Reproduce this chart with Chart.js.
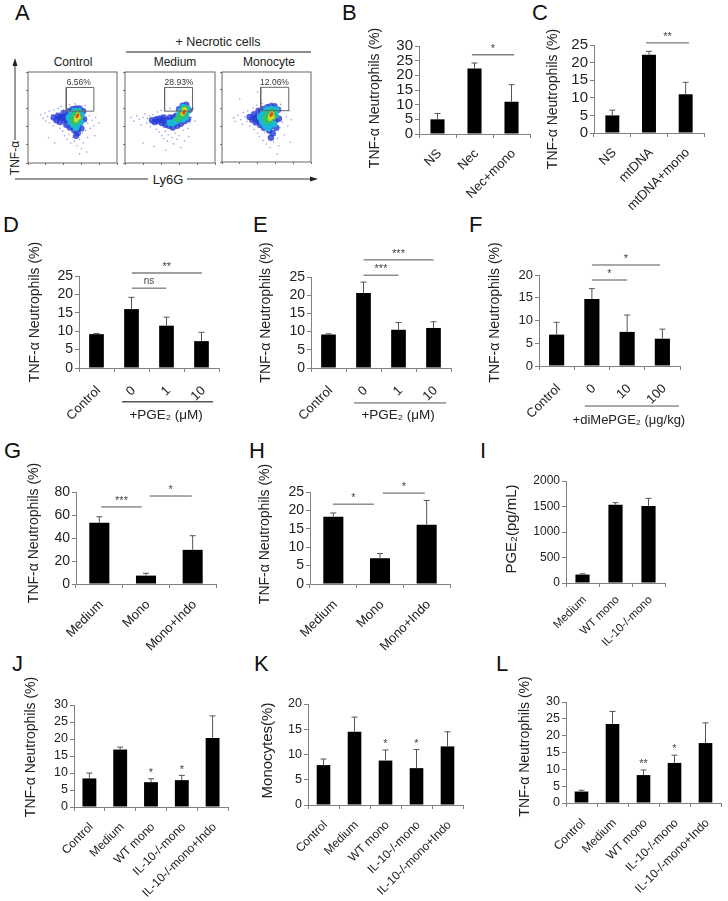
<!DOCTYPE html>
<html>
<head>
<meta charset="utf-8">
<script src="https://cdn.jsdelivr.net/npm/chart.js@4"></script>
<style>
  body { margin: 0; background: #fff; width: 728px; height: 901px; position: relative; overflow: hidden;
         font-family: "Liberation Sans", Arial, sans-serif; color: #222; }
  canvas { position: absolute; filter: blur(0.35px); }
  canvas.flow { filter: blur(0.6px); }
  .letter { position: absolute; font-size: 22px; line-height: 22px; color: #111; }
  .t { position: absolute; transform: translate(-50%, -50%); white-space: nowrap; font-size: 12px; }
  svg { position: absolute; left: 0; top: 0; }
</style>
</head>
<body>
<svg width="728" height="200">
  <line x1="126" y1="52" x2="311" y2="52" stroke="#666" stroke-width="1.5"/>
  <line x1="15" y1="64" x2="15" y2="140" stroke="#333"/>
  <polygon points="15,58 12.5,66 17.5,66" fill="#222"/>
  <line x1="15" y1="179" x2="148" y2="179" stroke="#333"/>
  <line x1="187" y1="179" x2="312" y2="179" stroke="#333"/>
  <polygon points="318,179 310,176.5 310,181.5" fill="#222"/>
</svg>
<div class="letter" style="left:15px;top:2px">A</div>
<div class="letter" style="left:342px;top:2px">B</div>
<div class="letter" style="left:532px;top:2px">C</div>
<div class="letter" style="left:3px;top:214px">D</div>
<div class="letter" style="left:253px;top:214px">E</div>
<div class="letter" style="left:469px;top:214px">F</div>
<div class="letter" style="left:4px;top:440px">G</div>
<div class="letter" style="left:249px;top:440px">H</div>
<div class="letter" style="left:480px;top:440px">I</div>
<div class="letter" style="left:12px;top:653px">J</div>
<div class="letter" style="left:254px;top:653px">K</div>
<div class="letter" style="left:496px;top:653px">L</div>
<div class="t" style="left:218px;top:42px;font-size:12.5px">+ Necrotic cells</div>
<div class="t" style="left:73px;top:62px">Control</div>
<div class="t" style="left:175px;top:62px">Medium</div>
<div class="t" style="left:269px;top:62px">Monocyte</div>
<div class="t" style="left:168px;top:179px;font-size:13px">Ly6G</div>
<div class="t" style="left:15px;top:158px;transform:translate(-50%,-50%) rotate(-90deg)">TNF-α</div>

<script>
// bar values, the top of each error bar, and category labels per panel
const labelsB = ["NS", "Nec", "Nec+mono"];
const valuesB = [5, 22.3, 11];
const topsB = [7, 24.2, 16.8];

const labelsC = ["NS", "mtDNA", "mtDNA+mono"];
const valuesC = [5, 22.2, 11];
const topsC = [6.5, 23.2, 14.4];

const labelsD = ["Control", "0", "1", "10"];
const valuesD = [9.2, 16, 11.5, 7.3];
const topsD = [9.4, 19.2, 13.8, 9.7];

const labelsE = ["Control", "0", "1", "10"];
const valuesE = [9.2, 20.6, 10.5, 11];
const topsE = [9.4, 23.6, 12.5, 12.7];

const labelsF = ["Control", "0", "10", "100"];
const valuesF = [6.9, 14.7, 7.5, 6];
const topsF = [9.6, 17, 11.2, 8.1];

const labelsG = ["Medium", "Mono", "Mono+Indo"];
const valuesG = [53.3, 7.3, 29.7];
const topsG = [58.5, 9.3, 42];

const labelsH = ["Medium", "Mono", "Mono+Indo"];
const valuesH = [18.3, 7, 16.1];
const topsH = [19.3, 8.3, 22.7];

const labelsI = ["Medium", "WT mono", "IL-10-/-mono"];
const valuesI = [165, 1535, 1510];
const topsI = [180, 1575, 1660];

const labelsJKL = ["Control", "Medium", "WT mono", "IL-10-/-mono", "IL-10-/-mono+Indo"];
const valuesJ = [8.4, 16.9, 7.3, 7.9, 20.3];
const topsJ = [10, 17.6, 8.3, 9.3, 26.8];
const valuesK = [7.9, 14.5, 8.8, 7.3, 11.6];
const topsK = [9.1, 17.4, 10.9, 11, 14.5];
const valuesL = [3.4, 23.5, 8.3, 11.9, 17.8];
const topsL = [3.8, 27.2, 9.8, 14.2, 23.8];

// flow plots, read by eye, x and y in percent of the frame
const ctrlSparse = [[14,53],[17,49],[19,55],[20,46],[22,51],[24,44],[24,57],[26,49],[27,53],[28,41],[29,58],[30,46],[31,51],[32,55],[33,43],[34,60],[35,48],[36,38],[36,53],[37,62],[38,45],[39,35],[40,58],[41,30],[42,42],[44,26],[46,31],[47,64],[48,22],[50,28],[52,24],[53,65],[55,19],[56,30],[58,26],[60,16],[61,33],[62,22],[64,63],[65,36],[67,44],[67,28],[69,52],[70,38],[72,47],[74,41],[76,50],[23,28],[30,22],[58,10],[66,12],[75,30],[80,44]];
const ctrlBlue = [[29,50],[32,47],[34,52],[36,45],[38,50],[40,55],[41,47],[43,42],[44,52],[46,57],[47,39],[49,47],[50,59],[52,36],[54,60],[56,33],[58,60],[60,38],[62,57],[63,48],[54,30],[36,50],[40,51],[44,47],[48,53],[53,42],[58,44],[60,50],[50,40],[56,38]];
const ctrlCyan = [[46,50],[48,45],[49,54],[51,42],[52,57],[54,39],[57,57],[59,45],[60,52],[55,42]];
const ctrlGreen = [[50,48],[52,44],[52,53],[55,46],[56,56],[58,50],[54,50]];
const ctrlYellow = [[54,50],[56,53],[54,47],[57,50]];
const ctrlRed = [[55,51],[56,53]];

const medSparse = [[7,50],[10,46],[13,52],[16,48],[18,42],[20,50],[22,54],[24,44],[25,49],[27,52],[28,40],[30,47],[31,53],[33,43],[34,50],[35,37],[36,56],[38,34],[39,45],[40,58],[41,30],[43,27],[45,35],[47,24],[48,31],[50,60],[52,28],[54,21],[56,33],[58,26],[60,30],[62,17],[65,36],[66,24],[70,38],[72,44],[74,50],[76,60],[71,29],[20,22],[32,18],[45,14],[78,46]];
const medBlue = [[30,47],[33,45],[35,48],[37,46],[39,49],[41,44],[43,50],[45,42],[47,47],[49,41],[51,46],[53,39],[55,44],[57,52],[58,41],[60,59],[62,43],[64,63],[68,64],[71,58],[70,48],[66,46],[50,50],[54,50],[62,48],[66,56],[63,56],[42,47]];
const medCyan = [[50,44],[53,44],[56,46],[58,47],[60,52],[62,57],[65,61],[69,60],[67,50],[64,48],[68,55]];
const medGreen = [[58,48],[60,50],[62,54],[64,58],[67,60],[65,52],[67,56]];
const medYellow = [[65,56],[66,59],[64,54],[67,58]];
const medRed = [[66,57],[65,55]];

const monoSparse = [[13,49],[15,45],[18,52],[21,47],[23,42],[24,55],[26,50],[28,45],[29,57],[31,40],[32,52],[34,47],[35,60],[36,36],[38,43],[39,63],[40,32],[42,28],[44,40],[45,65],[46,24],[48,33],[50,20],[52,28],[54,16],[55,33],[56,66],[58,22],[60,30],[62,26],[64,18],[65,38],[66,64],[68,44],[70,30],[72,50],[74,40],[76,57],[78,47],[20,70],[40,78],[62,9],[77,22]];
const monoBlue = [[31,50],[34,47],[36,53],[38,44],[39,50],[41,57],[41,46],[43,41],[44,52],[46,59],[47,38],[49,46],[51,61],[53,35],[55,62],[57,32],[59,62],[61,38],[63,58],[64,48],[55,27],[48,55],[37,49],[43,47],[50,41],[56,40],[60,46],[52,48],[44,56]];
const monoCyan = [[43,50],[45,46],[46,54],[48,41],[50,58],[52,38],[55,59],[58,42],[60,52],[61,58],[54,42]];
const monoGreen = [[48,49],[50,45],[51,53],[54,46],[55,56],[58,50],[58,55],[53,50]];
const monoYellow = [[54,51],[56,54],[57,50],[54,48]];
const monoRed = [[56,54],[55,52]];

const gateControl = [[43,57],[74,57],[74,83],[43,83],[43,57]];
const gateMedium = [[44,57],[75,57],[75,83],[44,83],[44,57]];
const gateMonocyte = [[43.5,57],[75,57],[75,83],[43.5,83],[43.5,57]];

const MARGIN = { left: 60, right: 20, top: 45, bottom: 95 };
const TNF = "TNF-α Neutrophils (%)";

// draws error bars, brackets, stars, group lines and the y title
const extras = {
  id: "extras",
  afterDatasetsDraw(chart, args, o) {
    const ctx = chart.ctx, x = chart.scales.x, y = chart.scales.y, a = chart.chartArea;
    ctx.save();
    ctx.strokeStyle = "#555";
    ctx.lineWidth = 1;
    o.tops.forEach((top, i) => {
      const px = x.getPixelForValue(i);
      const y0 = y.getPixelForValue(o.values[i]), y1 = y.getPixelForValue(top);
      ctx.beginPath();
      ctx.moveTo(px, y0); ctx.lineTo(px, y1);
      ctx.moveTo(px - 3, y1); ctx.lineTo(px + 3, y1);
      ctx.stroke();
    });
    ctx.textAlign = "center";
    (o.brackets || []).forEach(b => {
      const yy = y.getPixelForValue(b.y);
      ctx.strokeStyle = b.color || "#555";
      ctx.lineWidth = b.width || 1;
      ctx.beginPath();
      ctx.moveTo(x.getPixelForValue(b.from), yy);
      ctx.lineTo(x.getPixelForValue(b.to), yy);
      ctx.stroke();
      ctx.fillStyle = "#444";
      ctx.font = (b.text === "ns" ? "10px" : "11px") + ' "Liberation Sans"';
      ctx.textBaseline = b.text === "ns" ? "bottom" : "middle";
      ctx.fillText(b.text, x.getPixelForValue((b.from + b.to) / 2), b.text === "ns" ? yy - 2 : yy - 6);
    });
    (o.stars || []).forEach(s => {
      ctx.fillStyle = "#444";
      ctx.font = '11px "Liberation Sans"';
      ctx.textBaseline = "middle";
      ctx.fillText(s.text, x.getPixelForValue(s.x), y.getPixelForValue(s.y));
    });
    if (o.group) {
      const g = o.group, yy = y.getPixelForValue(g.y);
      ctx.strokeStyle = "#555";
      ctx.beginPath();
      ctx.moveTo(x.getPixelForValue(g.from), yy);
      ctx.lineTo(x.getPixelForValue(g.to), yy);
      ctx.stroke();
      ctx.fillStyle = "#222";
      ctx.font = g.font + ' "Liberation Sans"';
      ctx.textBaseline = "middle";
      ctx.fillText(g.text, x.getPixelForValue(g.x), y.getPixelForValue(g.textY));
    }
    ctx.translate(a.left - o.titleDx, (a.top + a.bottom) / 2 + o.titleDy);
    ctx.rotate(-Math.PI / 2);
    ctx.fillStyle = "#222";
    ctx.font = o.titleSize + 'px "Liberation Sans"';
    ctx.textBaseline = "middle";
    ctx.fillText(o.title, 0, 0);
    ctx.restore();
  },
};

function barPanel(p) {
  const canvas = document.createElement("canvas");
  const w = p.right - p.left, h = p.bottom - p.top;
  canvas.width = w + MARGIN.left + MARGIN.right;
  canvas.height = h + MARGIN.top + MARGIN.bottom;
  canvas.style.left = p.left - MARGIN.left + "px";
  canvas.style.top = p.top - MARGIN.top + "px";
  document.body.appendChild(canvas);
  return new Chart(canvas.getContext("2d"), {
    type: "bar",
    data: {
      labels: p.labels,
      datasets: [{
        data: p.values,
        backgroundColor: "#000",
        barPercentage: p.barPct,
        categoryPercentage: 1,
      }],
    },
    options: {
      responsive: false,
      animation: false,
      layout: { padding: { top: MARGIN.top, right: MARGIN.right, left: 0, bottom: 0 } },
      plugins: {
        legend: { display: false },
        tooltip: { enabled: false },
        extras: {
          values: p.values, tops: p.tops, brackets: p.brackets, stars: p.stars, group: p.group,
          title: p.title || TNF, titleDx: p.titleDx, titleDy: p.titleDy, titleSize: p.titleSize || 14,
        },
      },
      scales: {
        x: {
          afterFit: s => { s.height = MARGIN.bottom; },
          border: { color: "#808080" },
          grid: { drawOnChartArea: false, color: "#808080", tickLength: 4 },
          ticks: {
            autoSkip: false, minRotation: 45, maxRotation: 45, padding: p.xPad, labelOffset: 2,
            color: "#222", font: { family: "Liberation Sans", size: p.xSize },
          },
        },
        y: {
          min: 0, max: p.max,
          afterFit: s => { s.width = MARGIN.left; },
          border: { color: "#808080" },
          grid: { drawOnChartArea: false, color: "#808080", tickLength: 4 },
          ticks: {
            stepSize: p.step, padding: 2, autoSkip: false,
            callback: v => String(v),
            color: "#222", font: { family: "Liberation Sans", size: p.ySize },
          },
        },
      },
    },
    plugins: [extras],
  });
}

const heavy = { color: "#808080", width: 1.5 };

barPanel({ labels: labelsB, values: valuesB, tops: topsB, left: 419, right: 530, top: 46, bottom: 134, max: 30, step: 5,
  barPct: 0.38, xSize: 13, xPad: 8, ySize: 15, titleDx: 44, titleDy: 8,
  brackets: [{ from: 0.93, to: 2.07, y: 27, text: "*", ...heavy }] });
barPanel({ labels: labelsC, values: valuesC, tops: topsC, left: 594, right: 704, top: 45, bottom: 133.5, max: 25, step: 5,
  barPct: 0.38, xSize: 13, xPad: 8, ySize: 15, titleDx: 41, titleDy: 10,
  brackets: [{ from: 0.92, to: 2.09, y: 25.6, text: "**" }] });
barPanel({ labels: labelsD, values: valuesD, tops: topsD, left: 79, right: 219, top: 276, bottom: 368, max: 25, step: 5,
  barPct: 0.42, xSize: 13, xPad: 11, ySize: 14, titleDx: 44, titleDy: -10,
  brackets: [{ from: 1.01, to: 1.99, y: 21.7, text: "ns" }, { from: 1.01, to: 3.01, y: 25.8, text: "**", ...heavy }],
  group: { from: 0.73, to: 3.33, y: -9.2, text: "+PGE₂ (μM)", x: 1.99, textY: -12.8, font: "13.5px" } });
barPanel({ labels: labelsE, values: valuesE, tops: topsE, left: 311, right: 451, top: 277, bottom: 368, max: 25, step: 5,
  barPct: 0.42, xSize: 13, xPad: 11, ySize: 14, titleDx: 45, titleDy: -10,
  brackets: [{ from: 1, to: 2, y: 25.5, text: "***" }, { from: 1, to: 3, y: 29.7, text: "***" }],
  group: { from: 0.73, to: 3.36, y: -9.6, text: "+PGE₂ (μM)", x: 1.99, textY: -12.9, font: "13.5px" } });
barPanel({ labels: labelsF, values: valuesF, tops: topsF, left: 539, right: 680, top: 275, bottom: 366, max: 20, step: 5,
  barPct: 0.43, xSize: 13, xPad: 11, ySize: 13, titleDx: 44, titleDy: -8,
  brackets: [{ from: 1, to: 2, y: 18.9, text: "*" }, { from: 1, to: 2.93, y: 22.2, text: "*" }],
  group: { from: 0.8, to: 3.47, y: -8.8, text: "+diMePGE₂ (μg/kg)", x: 2.05, textY: -11.9, font: "13px" } });
barPanel({ labels: labelsG, values: valuesG, tops: topsG, left: 76, right: 216, top: 492, bottom: 584, max: 80, step: 20,
  barPct: 0.43, xSize: 13, xPad: 9, ySize: 14, titleDx: 42, titleDy: -5,
  brackets: [{ from: 0.04, to: 0.91, y: 67, text: "***" }, { from: 1.08, to: 1.98, y: 76.5, text: "*" }] });
barPanel({ labels: labelsH, values: valuesH, tops: topsH, left: 310, right: 450, top: 492, bottom: 584, max: 25, step: 5,
  barPct: 0.43, xSize: 13, xPad: 9, ySize: 14, titleDx: 45, titleDy: -4,
  brackets: [{ from: -0.01, to: 0.87, y: 21.7, text: "*" }, { from: 1.06, to: 1.96, y: 24.7, text: "*" }] });
barPanel({ labels: labelsI, values: valuesI, tops: topsI, left: 566, right: 665, top: 481, bottom: 583, max: 2000, step: 500,
  barPct: 0.43, xSize: 11.5, xPad: 6, ySize: 12, titleDx: 54, titleDy: -3, title: "PGE₂(pg/mL)", titleSize: 15 });
barPanel({ labels: labelsJKL, values: valuesJ, tops: topsJ, left: 74, right: 228, top: 705, bottom: 807, max: 30, step: 5,
  barPct: 0.45, xSize: 12, xPad: 9, ySize: 12.5, titleDx: 43, titleDy: -9,
  stars: [{ x: 2, y: 10, text: "*" }, { x: 3, y: 11, text: "*" }] });
barPanel({ labels: labelsJKL, values: valuesK, tops: topsK, left: 308, right: 463, top: 704, bottom: 805, max: 20, step: 5,
  barPct: 0.44, xSize: 12, xPad: 9, ySize: 12.5, titleDx: 40, titleDy: -4, title: "Monocytes(%)", titleSize: 15,
  stars: [{ x: 2, y: 12, text: "*" }, { x: 3, y: 12, text: "*" }] });
barPanel({ labels: labelsJKL, values: valuesL, tops: topsL, left: 566, right: 721, top: 702, bottom: 803, max: 30, step: 5,
  barPct: 0.44, xSize: 12, xPad: 9, ySize: 12.5, titleDx: 41, titleDy: -6,
  stars: [{ x: 2, y: 11.6, text: "**" }, { x: 3, y: 16, text: "*" }] });

// gate frame and percent label for the flow plots
const flowExtras = {
  id: "flowExtras",
  afterDatasetsDraw(chart, args, o) {
    const ctx = chart.ctx, a = chart.chartArea;
    ctx.save();
    ctx.strokeStyle = "#666";
    ctx.lineWidth = 1;
    ctx.strokeRect(a.left, a.top, a.right - a.left, a.bottom - a.top);
    ctx.fillStyle = "#333";
    ctx.font = '8.5px "Liberation Sans"';
    ctx.textAlign = "center";
    ctx.textBaseline = "middle";
    ctx.fillText(o.label, chart.scales.x.getPixelForValue(o.labelX), chart.scales.y.getPixelForValue(88));
    ctx.restore();
  },
};

function flowPanel(p) {
  const canvas = document.createElement("canvas");
  canvas.className = "flow";
  canvas.width = p.right - p.left + 10;
  canvas.height = p.bottom - p.top + 10;
  canvas.style.left = p.left - 5 + "px";
  canvas.style.top = p.top - 5 + "px";
  document.body.appendChild(canvas);
  const cloud = (data, color, radius) => ({ data, backgroundColor: color, pointRadius: radius, pointBorderWidth: 0, showLine: false });
  const axis = side => ({
    min: 0, max: 100,
    afterFit: s => { if (side === "x") s.height = 5; else s.width = 5; },
    border: { display: false },
    grid: { drawOnChartArea: false, color: "#777", tickLength: 2 },
    ticks: { display: false, stepSize: 20 },
  });
  return new Chart(canvas.getContext("2d"), {
    type: "scatter",
    data: {
      datasets: [
        { data: p.gate, showLine: true, borderColor: "#666", borderWidth: 1, pointRadius: 0 },
        cloud(p.red, "#e04a20", 1.5),
        cloud(p.yellow, "#d8d820", 2.2),
        cloud(p.green, "#2fc36a", 3),
        cloud(p.cyan, "#18b8d8", 3.4),
        cloud(p.blue, "rgba(40,60,215,0.8)", 3.2),
        cloud(p.sparse, "rgba(90,90,230,0.6)", 0.8),
      ],
    },
    options: {
      responsive: false,
      animation: false,
      layout: { padding: { top: 5, right: 5, left: 0, bottom: 0 } },
      plugins: {
        legend: { display: false },
        tooltip: { enabled: false },
        flowExtras: { label: p.label, labelX: p.labelX },
      },
      scales: { x: axis("x"), y: axis("y") },
    },
    plugins: [flowExtras],
  });
}

flowPanel({ left: 28, right: 117, top: 72, bottom: 163, gate: gateControl, label: "6.56%", labelX: 57,
  sparse: ctrlSparse, blue: ctrlBlue, cyan: ctrlCyan, green: ctrlGreen, yellow: ctrlYellow, red: ctrlRed });
flowPanel({ left: 125, right: 215, top: 72, bottom: 163, gate: gateMedium, label: "28.93%", labelX: 60,
  sparse: medSparse, blue: medBlue, cyan: medCyan, green: medGreen, yellow: medYellow, red: medRed });
flowPanel({ left: 222, right: 311, top: 72, bottom: 162, gate: gateMonocyte, label: "12.06%", labelX: 59,
  sparse: monoSparse, blue: monoBlue, cyan: monoCyan, green: monoGreen, yellow: monoYellow, red: monoRed });
</script>
</body>
</html>
